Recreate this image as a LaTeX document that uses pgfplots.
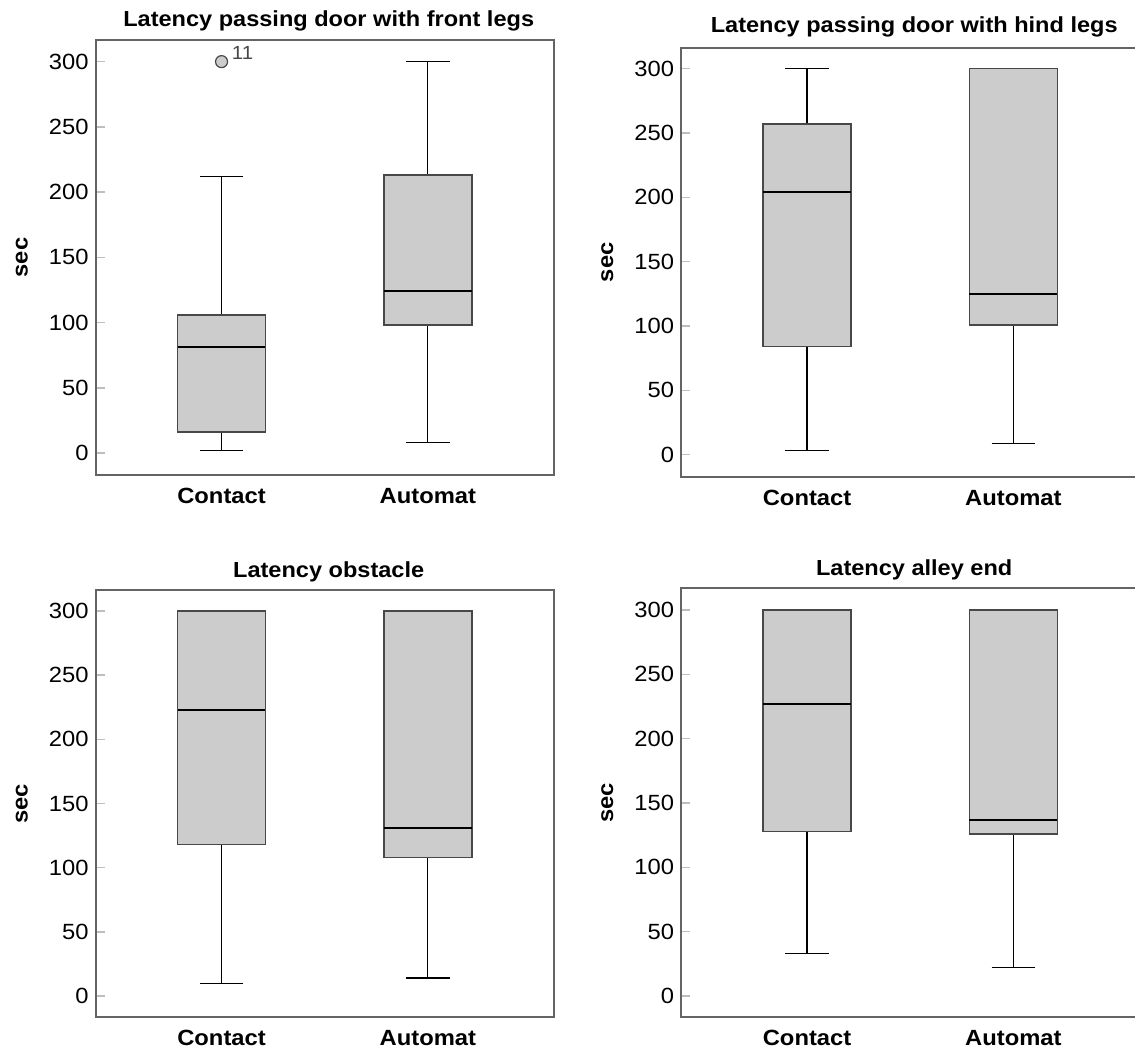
\documentclass[border=0pt]{standalone}
\usepackage{fontspec}
\setmainfont{Liberation Sans}[FakeStretch=1.08]
\usepackage{pgfplots}
\pgfplotsset{compat=1.18}
\usepgfplotslibrary{statistics}
\definecolor{boxgray}{RGB}{204,204,204}
\definecolor{boxedge}{RGB}{72,72,72}
\definecolor{framegray}{RGB}{100,100,100}
\definecolor{tickgray}{RGB}{190,190,190}
\pgfplotsset{spss/.style={
  scale only axis, width=229pt,
  boxplot/draw direction=y,
  xmin=0.39, xmax=2.61,
  xtick={1,2}, xticklabels={Contact,Automat},
  ytick={0,50,...,300},
  ytick pos=left, tick align=inside,
  major tick length=4.5pt,
  major y tick style={draw=tickgray, line width=0.8pt},
  major x tick style={draw=none},
  axis line style={draw=framegray, line width=0.9pt},
  /pgf/number format/assume math mode=true,
  yticklabel style={font=\fontsize{11}{13}\selectfont, text=black},
  xticklabel style={font=\bfseries\fontsize{11}{13}\selectfont, anchor=base, yshift=-14.2pt},
  ylabel={sec},
  ylabel style={font=\bfseries\fontsize{11}{13}\selectfont, at={(axis description cs:-0.1616,0.5)}, anchor=center},
  title style={font=\bfseries\fontsize{10.9}{13}\selectfont, at={(axis description cs:0.5,1)}, anchor=base, xshift=2pt},
  boxplot/every box/.style={draw=boxedge, fill=boxgray, line width=0.8pt},
  boxplot/every whisker/.style={black, line width=0.6pt},
  boxplot/every median/.style={black, line width=1.1pt},
  boxplot/box extend=0.426,
  boxplot/whisker extend=0.21,
}}
\begin{document}
\begin{tikzpicture}
% Panel 1
\begin{axis}[spss, at={(47.85pt,289pt)}, anchor=south west, height=217.5pt,
  ymin=-16.87, ymax=316.6, title={Latency passing door with front legs}, title style={yshift=0.7pt}]
\addplot[boxplot prepared={lower whisker=2, lower quartile=16, median=81, upper quartile=106, upper whisker=212, draw position=1},
  mark=*, mark size=3pt, mark options={fill=boxgray, draw=boxedge, line width=0.6pt}] coordinates {(0,300)};
\addplot[boxplot prepared={lower whisker=8, lower quartile=98, median=124, upper quartile=213, upper whisker=300, draw position=2}] coordinates {};
\node[font=\fontsize{9.5}{10}\selectfont, text=boxedge, anchor=south west, inner sep=0pt, xshift=5pt, yshift=0.8pt] at (axis cs:1,300) {11};
\end{axis}
% Panel 2
\begin{axis}[spss, at={(340.6pt,288.15pt)}, anchor=south west, height=214.5pt,
  ymin=-17.1, ymax=316.3, title={Latency passing door with hind legs}, title style={yshift=1.7pt}]
\addplot[boxplot prepared={lower whisker=3, lower quartile=84, median=204, upper quartile=257, upper whisker=300, draw position=1}] coordinates {};
\addplot[boxplot prepared={lower whisker=9, lower quartile=101, median=125, upper quartile=300, upper whisker=300, draw position=2}] coordinates {};
\end{axis}
% Panel 3
\begin{axis}[spss, at={(47.85pt,17.85pt)}, anchor=south west, height=213.65pt,
  ymin=-16.6, ymax=316.4, title={Latency obstacle}, title style={yshift=0.4pt}]
\addplot[boxplot prepared={lower whisker=10, lower quartile=118, median=223, upper quartile=300, upper whisker=300, draw position=1}] coordinates {};
\addplot[boxplot prepared={lower whisker=14, lower quartile=108, median=131, upper quartile=300, upper whisker=300, draw position=2}] coordinates {};
\end{axis}
% Panel 4
\begin{axis}[spss, at={(340.6pt,17.85pt)}, anchor=south west, height=214.5pt,
  ymin=-16.55, ymax=316.9, title={Latency alley end}, title style={yshift=0.3pt}]
\addplot[boxplot prepared={lower whisker=33, lower quartile=128, median=227, upper quartile=300, upper whisker=300, draw position=1}] coordinates {};
\addplot[boxplot prepared={lower whisker=22, lower quartile=126, median=137, upper quartile=300, upper whisker=300, draw position=2}] coordinates {};
\end{axis}
\pgfresetboundingbox
\path[use as bounding box] (0,0) rectangle (567.5pt,526.5pt);
\end{tikzpicture}
\end{document}
